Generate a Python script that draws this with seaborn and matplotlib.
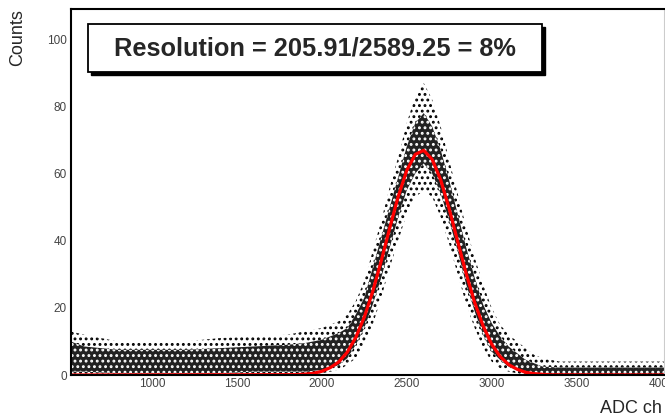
import numpy as np
import pandas as pd
import seaborn as sns
import matplotlib.pyplot as plt
from matplotlib.patches import Rectangle
from matplotlib.ticker import MultipleLocator

# Gaussian fit, ADC channel -> counts
fit_x = [520, 1850, 1900, 1950, 2000, 2050, 2100, 2150, 2200, 2250, 2300, 2350,
         2400, 2450, 2500, 2550, 2600, 2650, 2700, 2750, 2800, 2850, 2900, 2950,
         3000, 3050, 3100, 3150, 3200, 3250, 3300, 3350, 4020]
fit_y = [0, 0.1, 0.25, 0.5, 1.1, 2.2, 3.9, 6.8, 11.2, 17.2, 24.9, 34.0,
         43.8, 53.2, 60.9, 65.7, 66.9, 64.2, 58.1, 49.5, 39.8, 30.2, 21.6, 14.6,
         9.2, 5.5, 3.1, 1.7, 0.8, 0.4, 0.2, 0.05, 0]

# spread of the histogram points (dense core and sparse outer band)
cloud_x = [520, 600, 800, 1000, 1200, 1400, 1600, 1800, 1900, 2000, 2050, 2100,
           2150, 2200, 2250, 2300, 2350, 2400, 2450, 2500, 2550, 2600, 2650, 2700,
           2750, 2800, 2850, 2900, 2950, 3000, 3050, 3100, 3150, 3200, 3250, 3300,
           3400, 3500, 3700, 4000, 4020]
core_lo = [1, 1, 0.5, 0.5, 0.5, 0.5, 1, 1, 1, 1.5, 2, 3,
           5, 9, 14, 21, 29, 38, 47, 55, 60, 63, 60, 54,
           46, 37, 27, 19, 12, 7, 4.5, 2.5, 1.5, 0.5, 0, 0,
           0, 0, 0, 0, 0]
core_hi = [10, 8.5, 7.5, 7.5, 7.5, 8, 8.5, 9, 9.5, 10.5, 11.5, 12.5,
           14, 18, 23, 32, 41, 50, 59, 68, 75, 78, 74, 67,
           58, 48, 38, 29, 21, 15.5, 11.5, 8.5, 6.5, 4.5, 3.5, 2.5,
           2.2, 2.2, 2.2, 2.2, 2.2]
outer_lo = [0, 0, 0, 0, 0, 0, 0, 0, 0, 0.5, 1, 1.5,
            3, 5, 9, 15, 23, 32, 40, 48, 53, 55, 53, 47,
            39, 30, 21, 14, 8, 4, 2, 1, 0.5, 0, 0, 0,
            0, 0, 0, 0, 0]
outer_hi = [13, 12, 10, 10, 10, 11, 11.5, 12, 13, 14, 15, 16,
            18, 22, 28, 37, 46, 56, 65, 75, 83, 87, 82, 74,
            64, 54, 44, 35, 27, 20, 15, 12, 10, 8, 6, 5,
            4, 4, 4, 4, 4]

mean = 2589.25
sigma = 205.91
label = f"Resolution = {sigma:.2f}/{mean:.2f} = {sigma / mean * 100:.0f}%"

sns.set_theme(style="white")
plt.rcParams['font.family'] = ['Liberation Sans', 'DejaVu Sans']
plt.rcParams['hatch.linewidth'] = 1.3

fig = plt.figure(figsize=(6.65, 4.17), dpi=100)
ax = fig.add_axes([71 / 665, 42 / 417, (664 - 71) / 665, (375 - 9) / 417])

# sparse outliers: black speckles on white
ax.fill_between(cloud_x, outer_lo, outer_hi, facecolor='none', edgecolor='black',
                hatch='...', linewidth=0)
# dense core: black with white gaps
ax.fill_between(cloud_x, core_lo, core_hi, facecolor='#222222', edgecolor='white',
                hatch='...', linewidth=0)

sns.lineplot(x=fit_x, y=fit_y, color='red', linewidth=2.3, ax=ax)

ax.set_xlim(523, 4015)
ax.set_ylim(0, 109)

ax.xaxis.set_major_locator(MultipleLocator(500))
ax.xaxis.set_minor_locator(MultipleLocator(100))
ax.yaxis.set_major_locator(MultipleLocator(20))
ax.yaxis.set_minor_locator(MultipleLocator(10))
ax.tick_params(axis='both', which='both', direction='in', colors='black',
               labelcolor='#444', labelsize=8.5, width=1.3)
ax.tick_params(axis='y', which='major', length=12, pad=3)
ax.tick_params(axis='y', which='minor', length=6)
ax.tick_params(axis='x', which='major', length=8, pad=2)
ax.tick_params(axis='x', which='minor', length=4.5)
ax.set_yticks([0, 20, 40, 60, 80, 100])

for s in ['left', 'bottom', 'top']:
    ax.spines[s].set_color('black')
    ax.spines[s].set_linewidth(1.5)
ax.spines['right'].set_color('#cccccc')
ax.spines['right'].set_linewidth(0.8)

ax.set_xlabel('ADC ch', fontsize=13, loc='right')
ax.xaxis.set_label_coords(0.997, -0.068)
ax.set_ylabel('Counts', fontsize=13, loc='top')
ax.yaxis.set_label_coords(-0.075, 1.0)

# stats-style text box with drop shadow
bx0, bx1, by0, by1 = 88, 542, 417 - 72, 417 - 24
fig.patches.append(Rectangle(((bx0 + 3) / 665, (by0 - 3) / 417), (bx1 - bx0) / 665,
                             (by1 - by0) / 417, transform=fig.transFigure,
                             facecolor='black', edgecolor='black', zorder=5))
fig.patches.append(Rectangle((bx0 / 665, by0 / 417), (bx1 - bx0) / 665,
                             (by1 - by0) / 417, transform=fig.transFigure,
                             facecolor='white', edgecolor='black', linewidth=1.3,
                             zorder=6))
fig.text(314.5 / 665, (417 - 49) / 417, label, fontsize=18.3, fontweight='bold',
         ha='center', va='center', zorder=7)

fig.savefig('out.png', dpi=100)
